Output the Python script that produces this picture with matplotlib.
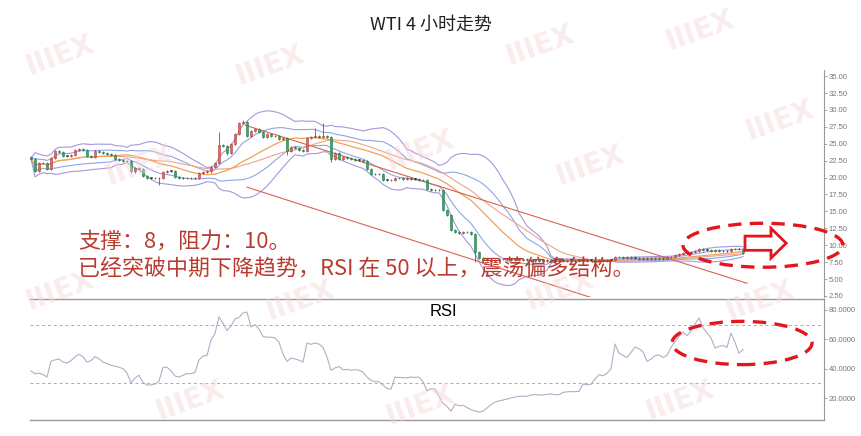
import numpy as np
import pandas as pd
import matplotlib
matplotlib.use('Agg')
import matplotlib.pyplot as plt
from matplotlib.patches import Ellipse, FancyArrow

plt.rcParams['font.family'] = ['Noto Sans CJK SC', 'DejaVu Sans']

# ---------------- data ----------------
close = [
    22.8, 21.0, 22.1, 22.2, 21.3, 22.9, 23.9, 23.8, 23.2, 23.2,
    23.3, 24.1, 24.2, 24.1, 23.2, 23.1, 23.9, 23.8, 23.6, 23.5,
    23.3, 22.8, 22.6, 22.5, 22.4, 20.9, 21.4, 21.2, 20.2, 20.0,
    20.0, 19.9, 20.0, 20.8, 21.0, 21.0, 20.1, 19.9, 19.9, 20.0,
    19.9, 19.9, 20.7, 20.8, 20.9, 21.6, 22.1, 24.8, 24.6, 23.7,
    25.0, 26.4, 28.0, 28.2, 26.2, 26.9, 27.2, 26.8, 26.0, 26.4,
    26.1, 26.2, 25.7, 25.8, 24.0, 24.5, 24.4, 24.1, 24.0, 25.8,
    26.0, 26.1, 26.0, 26.2, 26.0, 22.7, 23.7, 22.7, 23.0, 22.9,
    22.7, 22.6, 22.6, 22.4, 21.2, 20.5, 20.6, 20.5, 19.7, 19.7,
    19.6, 20.0, 19.9, 19.8, 19.9, 19.8, 19.8, 19.7, 19.6, 18.3,
    18.2, 18.1, 18.2, 15.2, 14.5, 12.3, 11.9, 11.8, 12.0, 11.9,
    11.7, 9.0, 8.1, 7.8, 7.8, 7.6, 7.8, 8.0, 7.9, 7.9,
    7.8, 7.9, 7.8, 7.9, 7.8, 7.7, 7.8, 7.7, 7.7, 7.8,
    7.7, 7.7, 7.8, 7.7, 7.8, 7.8, 7.7, 7.8, 7.7, 7.8,
    7.8, 7.7, 7.8, 7.7, 7.8, 7.8, 8.3, 8.2, 8.1, 8.2,
    8.1, 8.1, 8.0, 8.1, 8.0, 8.1, 8.0, 8.1, 8.0, 8.2,
    8.3, 8.5, 8.7, 8.9, 8.9, 9.0, 9.2, 9.4, 9.3, 9.3,
    9.2, 9.3, 9.2, 9.1, 9.1, 9.5, 9.4, 9.4, 8.9]
first_open = 23.0
wick_high = {47: 26.7, 53: 28.5, 71: 27.4, 73: 28.0}
wick_low = {32: 18.9, 49: 23.3, 64: 23.3, 75: 22.3, 111: 7.5}

rsi = [
    38.4, 36.5, 37.0, 36.0, 34.3, 45.0, 46.0, 46.6, 44.5, 43.8,
    45.5, 48.0, 49.8, 48.2, 44.5, 45.5, 48.2, 46.8, 44.5, 43.5,
    42.3, 41.6, 41.0, 40.0, 37.0, 30.2, 33.6, 35.5, 30.5, 28.8,
    29.0, 29.5, 31.5, 41.0, 41.0, 38.5, 35.0, 34.3, 35.5, 36.7,
    36.5, 37.5, 46.0, 48.6, 49.0, 59.5, 64.0, 75.3, 71.0, 66.0,
    69.0, 74.0, 74.8, 78.0, 78.6, 68.4, 70.0, 67.0, 62.0, 61.4,
    61.4, 61.0, 58.0, 50.0, 45.0, 47.2, 46.6, 45.8, 44.5, 57.5,
    56.6, 57.5, 56.8, 54.5, 48.0, 38.8, 40.5, 41.5, 39.2, 39.5,
    39.0, 39.3, 39.0, 37.5, 34.3, 32.0, 31.2, 31.0, 28.8, 26.5,
    26.0, 34.3, 34.0, 33.8, 33.8, 34.3, 34.0, 34.3, 31.0, 24.8,
    26.5, 26.0, 21.0, 16.5, 14.2, 11.0, 15.8, 14.7, 15.0, 13.5,
    12.0, 11.2, 10.4, 11.0, 13.2, 15.5, 17.2, 18.0, 18.6, 19.3,
    20.0, 20.6, 21.2, 21.2, 21.2, 22.0, 22.3, 22.1, 22.0, 22.5,
    22.8, 22.3, 22.3, 23.8, 24.2, 24.4, 24.3, 24.5, 29.5, 29.0,
    29.3, 33.0, 35.8, 35.2, 36.8, 40.0, 56.8, 50.6, 49.0, 47.7,
    51.0, 54.8, 53.5, 51.5, 45.0, 46.5, 48.8, 49.3, 47.7, 49.0,
    54.5, 58.5, 62.0, 65.0, 62.5, 65.5, 70.5, 74.5, 68.0, 64.3,
    61.0, 54.0, 55.2, 55.8, 54.5, 64.3, 58.0, 50.5, 53.0]

trend_upper = [(53.5, 27.75), (179.0, 4.38)]
trend_lower = [(54.0, 18.58), (142.0, 1.9)]
price_ticks = [2.5, 5.0, 7.5, 10.0, 12.5, 15.0, 17.5, 20.0, 22.5, 25.0,
               27.5, 30.0, 32.5, 35.0]
rsi_ticks = [20, 40, 60, 80]
rsi_levels = [30, 70]
title = 'WTI 4 小时走势'
note1 = '支撑：8，阻力：10。'
note2 = '已经突破中期下降趋势，RSI 在 50 以上，震荡偏多结构。'
resist_zone = (183.0, 10.0)     # centre of highlighted zone (bar index, price)
rsi_zone = (177.75, 57.5)       # centre of highlighted RSI zone
arrow_from = (178.5, 10.3)
arrow_to = (188.8, 10.3)

# ---------------- figure ----------------
W, H = 862, 436
fig = plt.figure(figsize=(W / 100, H / 100), dpi=100)
fig.patch.set_facecolor('white')

def fx(px):
    return px / W

def fy(py):
    return 1 - py / H

L, R = 30, 824
axp = fig.add_axes([fx(L), fy(297), fx(R - L), (297 - 70) / H])
axr = fig.add_axes([fx(L), fy(420), fx(R - L), (420 - 299) / H])

# watermarks (decorative, very faint)
wm = [(60, 55), (270, 65), (540, 45), (700, 30), (140, 165), (420, 150),
      (590, 165), (780, 120), (60, 290), (300, 300), (560, 290), (760, 300),
      (190, 400), (420, 405), (680, 400)]
for (px, py) in wm:
    fig.text(fx(px), fy(py), 'IIIEX', fontsize=20, fontweight='bold',
             color='#f4d6d6', alpha=0.45, rotation=20, ha='center', va='center',
             family='DejaVu Sans', zorder=0)

c = np.array(close)
n = len(c)
x = np.arange(n)
o = np.r_[first_open, c[:-1]]
s = pd.Series(c)
mid = s.rolling(20, min_periods=1).mean()
sd = s.rolling(20, min_periods=1).std(ddof=0)
ma2 = s.rolling(30, min_periods=1).mean()

for ax in (axp, axr):
    ax.set_facecolor('none')
    ax.set_xlim(-0.25, 198.25)
    ax.set_xticks([])
    ax.yaxis.tick_right()
    ax.tick_params(axis='y', direction='out', length=2, width=0.6,
                   colors='#999999', labelsize=5.5, labelcolor='#777777', pad=1.5)
    ax.spines['left'].set_visible(False)
    ax.spines['right'].set_color('#999999')
    ax.spines['right'].set_linewidth(0.8)

# price panel
axp.set_ylim(2.35, 35.9)
axp.set_yticks(price_ticks)
axp.set_yticklabels([f'{v:.2f}' for v in price_ticks], family='Liberation Sans')
for sp in ('top', 'bottom'):
    axp.spines[sp].set_visible(False)

axp.plot(x, mid + 2 * sd, color='#a896dc', lw=0.8, zorder=2)
axp.plot(x, mid - 2 * sd, color='#a896dc', lw=0.8, zorder=2)
axp.plot(x, mid + sd, color='#8fa6e6', lw=0.8, zorder=2)
axp.plot(x, mid - sd, color='#8fa6e6', lw=0.8, zorder=2)
axp.plot(x, ma2, color='#eea58a', lw=0.8, zorder=2)
axp.plot(x, mid, color='#f0a05a', lw=0.9, zorder=2)

for seg in (trend_upper, trend_lower):
    axp.plot([seg[0][0], seg[1][0]], [seg[0][1], seg[1][1]], color='#d9634f',
             lw=0.8, zorder=2)

up = c >= o
small = np.abs(c - o) < 0.08
face = np.where(small, '#555555', np.where(up, '#e06a66', '#3aa56a'))
edge = np.where(small, '#333333', np.where(up, '#b03a36', '#227a48'))
hi = np.array([wick_high.get(i, max(o[i], c[i]) + 0.15) for i in range(n)])
lo = np.array([wick_low.get(i, min(o[i], c[i]) - 0.15) for i in range(n)])
axp.vlines(x, lo, hi, colors=edge, lw=0.6, zorder=3)
axp.bar(x, np.maximum(np.abs(c - o), 0.1), bottom=np.minimum(o, c), width=0.65,
        color=face, edgecolor=edge, linewidth=0.4, zorder=4)

axp.add_patch(Ellipse(resist_zone, 40, 6.5, fill=False, ec='#e3161e', lw=2.4,
                      ls=(0, (4, 2.5)), clip_on=False, zorder=6))
axp.add_patch(FancyArrow(arrow_from[0], arrow_from[1],
                         arrow_to[0] - arrow_from[0], arrow_to[1] - arrow_from[1],
                         width=2.1, head_width=4.4, head_length=3.8,
                         length_includes_head=True, fc='white', ec='#e3161e',
                         lw=2.0, clip_on=False, zorder=7))

# RSI panel
axr.set_ylim(5, 87.5)
axr.set_yticks(rsi_ticks)
axr.set_yticklabels([f'{v:.4f}' for v in rsi_ticks], family='Liberation Sans')
for sp in ('top', 'bottom'):
    axr.spines[sp].set_color('#999999')
    axr.spines[sp].set_linewidth(1.0)
for lv in rsi_levels:
    axr.axhline(lv, color='#aaaaaa', lw=0.7, ls=(0, (3, 3)), zorder=1)
axr.plot(np.arange(len(rsi)), rsi, color='#b9a9c6', lw=0.8, zorder=3)
axr.text(0.521, 0.9, 'RSI', transform=axr.transAxes, ha='center', va='center',
         fontsize=12, family='Liberation Sans', color='black')
axr.add_patch(Ellipse(rsi_zone, 35, 29.5, fill=False, ec='#e3161e', lw=2.4,
                      ls=(0, (4, 2.5)), clip_on=False, zorder=6))

# texts
fig.text(0.5, fy(25), title, ha='center', va='center', fontsize=13, color='#222222')
fig.text(fx(78), fy(242), note1, ha='left', va='center', fontsize=15.8, color='#bb3a2e')
fig.text(fx(78), fy(270), note2, ha='left', va='center', fontsize=15.8, color='#bb3a2e')

fig.savefig('out.png', dpi=100)
